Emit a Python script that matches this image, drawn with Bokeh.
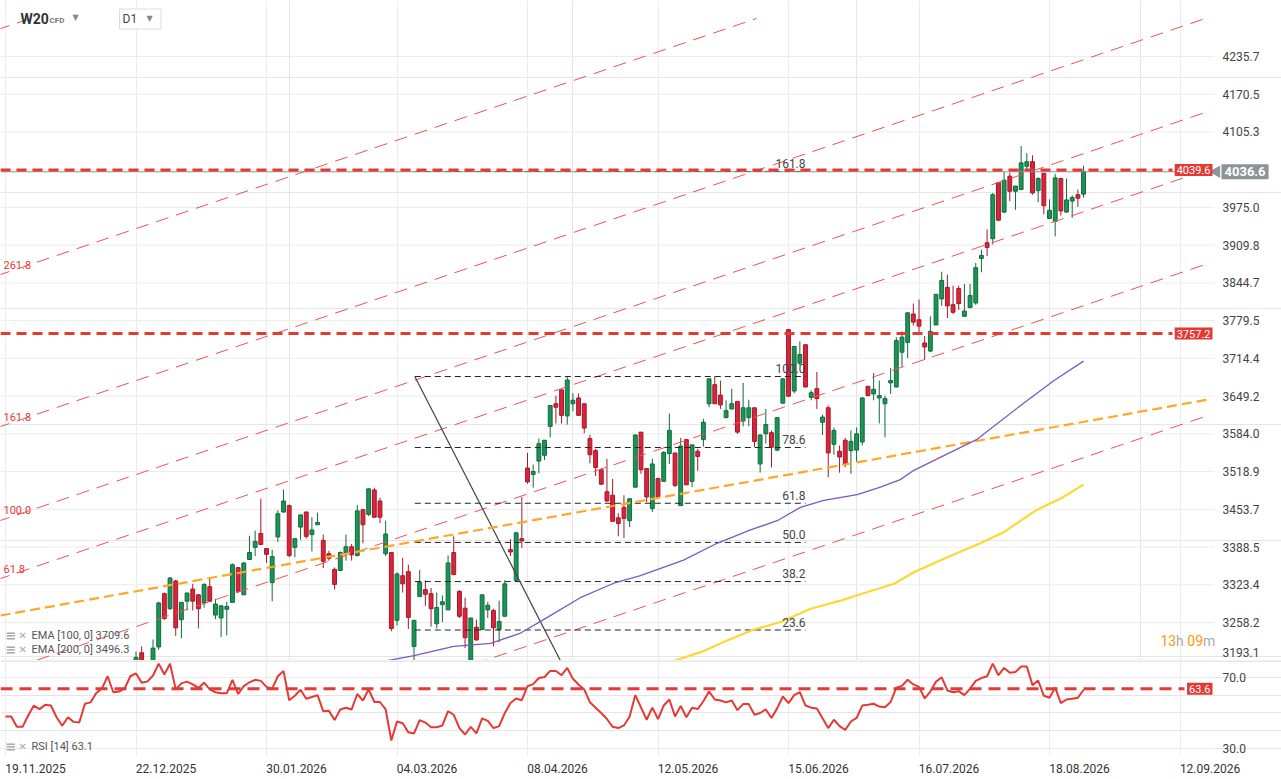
import math
from bokeh.plotting import figure
from bokeh.models import Range1d, FixedTicker, Grid, Label, ColumnDataSource
from bokeh.layouts import column
from bokeh.embed import file_html
from bokeh.resources import INLINE

# ---------------- data ----------------
candle_start = 23
opens = [3185,3206,3188,3190,3216,3308,3282,3330,3263,3295,
         3316,3306,3292,3320,3271,3266,3281,3293,3353,3306,
         3367,3388,3412,3386,3327,3406,3449,3460,3388,3423,
         3449,3410,3427,3400,3377,3350,3348,3378,3389,3374,
         3453,3445,3487,3468,3377,3379,3262,3339,3346,3217,
         3303,3315,3308,3256,3289,3280,3379,3312,3283,3180,
         3250,3246,3280,3279,3246,3269,3384,3331,3403,3525,
         3514,3537,3547,3597,3636,3660,3615,3636,3646,3636,
         3576,3555,3522,3484,3478,3439,3457,3434,3492,3587,
         3524,3455,3507,3502,3550,3551,3460,3574,3502,3554,
         3574,3636,3669,3651,3612,3627,3640,3606,3612,3629,
         3532,3584,3586,3556,3637,3764,3658,3706,3738,3647,
         3662,3604,3629,3566,3554,3573,3555,3556,3570,3666,
         3653,3646,3636,3672,3665,3725,3742,3791,3781,3741,
         3727,3772,3817,3837,3807,3835,3787,3802,3810,3887,
         3914,3921,4018,3967,4029,4003,4006,4046,4054,4004,
         4034,3956,3951,4025,3967,3986,3997,3998]
highs = [3208,3217,3191,3229,3294,3310,3337,3332,3293,3310,
         3325,3307,3326,3334,3299,3287,3294,3360,3353,3362,
         3408,3417,3472,3386,3384,3452,3488,3462,3403,3444,
         3450,3440,3448,3410,3382,3353,3381,3410,3394,3461,
         3454,3490,3491,3474,3434,3379,3345,3370,3358,3262,
         3349,3331,3318,3310,3305,3374,3407,3314,3301,3266,
         3263,3306,3294,3282,3296,3331,3402,3415,3475,3551,
         3531,3576,3573,3633,3650,3660,3683,3654,3654,3636,
         3582,3558,3525,3541,3506,3447,3478,3472,3583,3587,
         3524,3541,3508,3554,3619,3551,3577,3574,3565,3558,
         3610,3680,3683,3676,3642,3662,3640,3672,3643,3629,
         3583,3627,3590,3613,3680,3765,3735,3744,3738,3659,
         3691,3617,3633,3595,3564,3577,3590,3595,3647,3667,
         3689,3676,3650,3698,3751,3761,3794,3809,3816,3753,
         3787,3825,3864,3859,3840,3840,3843,3843,3879,3902,
         3937,4000,4018,4036,4035,4012,4081,4069,4065,4027,
         4034,3989,4033,4026,4025,3996,4006,4047]
lows = [3175,3170,3160,3182,3211,3263,3280,3235,3231,3279,
        3279,3248,3284,3294,3264,3233,3236,3293,3309,3306,
        3366,3373,3393,3361,3295,3397,3448,3371,3371,3401,
        3403,3381,3427,3352,3365,3315,3348,3365,3365,3372,
        3395,3442,3440,3430,3373,3243,3253,3310,3247,3185,
        3302,3287,3251,3248,3259,3280,3340,3266,3214,3170,
        3227,3245,3266,3217,3224,3269,3373,3328,3387,3498,
        3491,3516,3539,3578,3602,3602,3600,3623,3615,3585,
        3533,3511,3496,3467,3433,3407,3404,3423,3491,3515,
        3466,3449,3474,3502,3532,3492,3460,3496,3492,3520,
        3562,3630,3636,3627,3611,3626,3584,3597,3597,3561,
        3517,3567,3526,3554,3636,3648,3654,3702,3664,3642,
        3627,3582,3509,3548,3517,3526,3515,3536,3564,3650,
        3642,3602,3578,3653,3664,3700,3715,3771,3760,3712,
        3725,3772,3805,3784,3791,3798,3787,3802,3807,3863,
        3891,3911,3951,3965,3986,3971,4005,4039,3997,3984,
        3963,3956,3925,3961,3966,3957,3976,3992]
closes = [3198,3180,3170,3214,3292,3265,3335,3249,3293,3309,
          3295,3282,3324,3295,3290,3287,3286,3358,3312,3361,
          3379,3398,3393,3376,3372,3446,3468,3374,3403,3444,
          3407,3418,3431,3364,3369,3324,3379,3389,3375,3451,
          3427,3489,3440,3440,3411,3248,3342,3325,3267,3262,
          3328,3307,3282,3284,3294,3361,3341,3269,3232,3266,
          3228,3306,3288,3249,3260,3325,3380,3413,3399,3501,
          3519,3567,3573,3633,3630,3616,3677,3642,3616,3594,
          3548,3526,3497,3468,3433,3429,3438,3472,3582,3522,
          3475,3532,3475,3552,3590,3495,3563,3496,3565,3545,
          3604,3679,3636,3634,3624,3636,3587,3629,3629,3571,
          3582,3600,3561,3612,3679,3649,3735,3721,3665,3655,
          3645,3613,3551,3590,3544,3532,3571,3584,3646,3650,
          3661,3650,3645,3676,3745,3751,3793,3777,3770,3734,
          3761,3825,3849,3805,3794,3809,3796,3823,3871,3892,
          3906,3997,3953,4022,4003,4012,4052,4054,4000,4025,
          3978,3970,4026,3969,3988,3992,3991,4036.6]

rsi = [48.0,48.0,42.2,42.2,48.6,54.2,52.2,54.6,54.2,47.6,
       42.8,47.6,45.0,44.6,55.2,56.0,61.3,63.7,70.7,61.7,
       62.1,63.7,70.7,72.3,67.1,67.7,71.1,77.8,71.7,77.8,
       63.3,66.7,67.7,66.1,64.1,67.1,63.3,61.7,61.1,61.1,
       68.7,60.7,65.1,67.3,68.7,68.1,64.7,63.7,70.7,73.7,
       57.2,59.7,63.1,58.0,59.0,60.1,51.0,51.2,46.0,52.0,
       53.0,52.0,60.7,57.0,63.3,56.2,56.2,52.0,34.5,45.2,
       44.2,39.1,38.5,46.0,44.6,42.0,42.0,43.0,51.0,49.0,
       41.5,37.9,42.2,38.5,47.0,45.6,41.5,42.6,50.0,55.6,
       58.2,57.2,65.1,66.3,69.7,70.3,73.7,73.7,71.3,75.4,
       69.3,66.1,63.3,56.0,53.0,50.0,46.6,42.2,41.5,43.0,
       48.0,60.1,53.2,46.2,53.0,46.6,54.2,57.6,48.0,54.0,
       47.6,53.0,52.2,56.6,62.1,57.6,57.0,56.0,57.0,51.6,
       55.0,55.0,49.0,50.0,52.0,47.2,52.6,59.3,55.6,60.1,
       61.7,54.2,53.0,52.6,47.0,41.5,46.2,42.6,40.5,45.2,
       47.2,54.2,54.6,55.2,53.6,53.2,56.2,64.3,65.3,68.7,
       66.1,64.7,58.2,62.1,67.7,70.1,62.7,61.7,62.3,60.1,
       63.7,68.1,69.7,70.7,77.8,71.3,75.4,72.7,73.1,76.2,
       76.2,65.7,68.3,59.7,58.6,64.3,55.6,57.6,58.0,58.6,
       63.1]

ema100_x = [65, 72, 79, 85.5, 90.8, 95.5, 101.3, 107.2, 111.9, 119.5, 125.4, 131.3,
            136, 140.1, 144.2, 150.1, 154.2, 157.7, 160.1, 165.1, 171.3, 178.9, 184.8, 190]
ema100_y = [3188, 3201, 3217, 3222, 3240, 3267, 3301, 3326, 3339, 3366, 3395, 3418,
            3434, 3457, 3469, 3479, 3492, 3505, 3521, 3545, 3575, 3633, 3676, 3709.6]
ema200_x = [117, 122.5, 127.2, 131.9, 136.6, 141.9, 147.2, 150.7, 156.6, 160.1,
            166, 171.8, 175.9, 181.8, 185.9, 190]
ema200_y = [3189, 3207, 3227, 3246, 3259, 3282, 3296, 3307, 3325, 3345,
            3371, 3395, 3414, 3453, 3472, 3496.3]

trend_x = [-0.88, 212.0]
trend_y = [3270.3, 3643.3]

chan_x = [-0.881, 207.1]
chan_base = [3171.9, 3862.1]
chan_width = 262.5
chan_levels = [-1.0, 0.0, 0.618, 1.0, 1.618, 2.618, 4.236]
chan_labels = {0.618: "61.8", 1.0: "100.0", 1.618: "161.8", 2.618: "261.8"}

fib_x = [72.14, 141.0]
fib_low = 3110.0
fib_high = 3683.0
fib_levels = [0.0, 0.236, 0.382, 0.5, 0.618, 0.786, 1.0, 1.618]
fib_diag_x = [72.14, 102.1]
fib_diag_y = [3683.0, 3110.0]

level_lines = [4039.6, 3757.2]
last_price = 4036.6
rsi_level = 63.6

price_ticks = [3193.1, 3258.2, 3323.4, 3388.5, 3453.7, 3518.9, 3584.0, 3649.2, 3714.4,
               3779.5, 3844.7, 3909.8, 3975.0, 4040.1, 4105.3, 4170.5, 4235.7]
rsi_ticks = [30.0, 70.0]
date_idx = [0, 23, 46, 69, 92, 115, 138, 161, 184, 207]
date_labels = ["19.11.2025", "22.12.2025", "30.01.2026", "04.03.2026", "08.04.2026",
               "12.05.2026", "15.06.2026", "16.07.2026", "18.08.2026", "12.09.2026"]

# ---------------- layout helpers (reference pixel -> data) ----------------
X0 = -0.881
PX = 5.674
W_PX = 1281
MAIN_H = 660
RSI_H = 95


def X(px):
    return X0 + px / PX


def Y(py):
    return 4332.4 - 1.727 * py


def R(py):
    return 70 - (py - 677) * 0.5634


XE = X(1214)          # right edge of the plotting area (price scale starts here)
FONT = "Roboto"
GREEN, GREEN_D = "#1b9455", "#0f6b3d"
RED, RED_D = "#dc2339", "#a3192b"
LRED = "#e53935"
GRID = "#ececec"


def lab(fig, x, y, text, size="11px", color="#444444", align="left", baseline="middle",
        style="normal", bg=None, pad=None, border=None, font=FONT):
    kw = dict(x=x, y=y, text=text, text_font=font, text_font_size=size, text_color=color,
              text_align=align, text_baseline=baseline, text_font_style=style)
    if bg is not None:
        kw["background_fill_color"] = bg
    if border is not None:
        kw["border_line_color"] = border
    if pad is not None:
        kw["padding"] = pad
    fig.add_layout(Label(**kw))


def base_fig(height, yr, axis_below):
    f = figure(frame_width=W_PX, frame_height=height, x_range=Range1d(X0, X(W_PX)),
               y_range=yr, x_axis_location="below" if axis_below else None,
               y_axis_location=None, output_backend="svg", toolbar_location=None,
               min_border_left=0, min_border_right=0, min_border_top=0,
               min_border_bottom=24 if axis_below else 0,
               outline_line_color=None, background_fill_color="white",
               border_fill_color="white")
    return f


# ---------------- main price figure ----------------
p = base_fig(MAIN_H, Range1d(Y(MAIN_H), Y(0)), False)
p.add_layout(Grid(dimension=0, ticker=FixedTicker(ticks=date_idx), grid_line_color=GRID))
p.segment(x0=[X0] * len(price_ticks), y0=price_ticks, x1=[XE] * len(price_ticks),
          y1=price_ticks, line_color=GRID, line_width=1)

# candles
cidx = list(range(candle_start, candle_start + len(opens)))
up = [c >= o for o, c in zip(opens, closes)]
src = ColumnDataSource(dict(
    x=cidx, o=opens, h=highs, l=lows, c=closes,
    top=[max(o, c) for o, c in zip(opens, closes)],
    bot=[min(o, c) for o, c in zip(opens, closes)],
    fill=[GREEN if u else RED for u in up],
    edge=[GREEN_D if u else RED_D for u in up]))
p.segment(x0="x", y0="l", x1="x", y1="h", source=src, line_color="edge", line_width=1)
p.vbar(x="x", top="top", bottom="bot", width=0.68, source=src, fill_color="fill",
       line_color="edge", line_width=1)

# fib channel (thin red dashed), clipped at the top of the drawing area
slope = (chan_base[1] - chan_base[0]) / (chan_x[1] - chan_x[0])
ytop = Y(18)
xa, xb = -5.0, X(1210)
for lv in chan_levels:
    off = chan_base[0] + lv * chan_width
    xe = xb
    if off + slope * (xb - chan_x[0]) > ytop:
        xe = chan_x[0] + (ytop - off) / slope
    p.line([xa, xe], [off + slope * (xa - chan_x[0]), off + slope * (xe - chan_x[0])],
           line_color="#ef5350", line_width=1, line_dash="13 8")
    if lv in chan_labels:
        yl = off + slope * (X(3) - chan_x[0])
        lab(p, X(3), yl + 5 * 1.727, chan_labels[lv], size="11px", color=LRED,
            baseline="bottom")

# fib retracement
for lv in fib_levels:
    yv = fib_low + lv * (fib_high - fib_low)
    p.line(fib_x, [yv, yv], line_color="#222222", line_width=1, line_dash="6 4")
    if lv > 0:
        lab(p, fib_x[1], yv + 3.5 * 1.727, f"{lv * 100:.1f}", size="12px",
            color="#444444", align="right", baseline="bottom")
p.line(fib_diag_x, fib_diag_y, line_color="#444444", line_width=1.2)

# trend line & EMAs
p.line(trend_x, trend_y, line_color="#ffa726", line_width=2.2, line_dash="10 5")
p.line(ema100_x, ema100_y, line_color="#7e57c2", line_width=1.3)
p.line(ema200_x, ema200_y, line_color="#fdd835", line_width=2.2)

# horizontal levels
p.line([X0, XE], [last_price, last_price], line_color="#8a9499", line_width=1)
for lvl in level_lines:
    p.line([X0, X(1172)], [lvl, lvl], line_color=LRED, line_width=3, line_dash="10 6")
    lab(p, X(1212), lvl, f"{lvl:.1f}", size="11px", color="white", align="right",
        bg=LRED, pad=2)

# price scale labels
for t in price_ticks:
    if t < 3200:
        lab(p, X(1222), Y(652), f"{t:.1f}", size="12px", color="#444444")
    else:
        lab(p, X(1222), t, f"{t:.1f}", size="12px", color="#444444")
p.scatter([X(1216)], [last_price], marker="triangle", size=11, angle=math.pi / 2,
          fill_color="#8a9499", line_color="#8a9499")
lab(p, X(1221), last_price, f"{last_price:.1f}", size="13px", color="white",
    bg="#8a9499", pad=3, style="bold")

# legends
for py, txt in [(635, "EMA [100, 0] 3709.6"), (649, "EMA [200, 0] 3496.3")]:
    lab(p, X(5), Y(py), "\u2261", size="13px", color="#aaaaaa", style="bold", font="DejaVu Sans")
    lab(p, X(18), Y(py), "\u2715", size="10px", color="#aaaaaa", style="bold", font="DejaVu Sans")
    lab(p, X(31), Y(py), txt, size="11px", color="#555555")

# countdown
lab(p, X(1160), Y(640), "13", size="14px", color="#ff9800")
lab(p, X(1175.6), Y(640), "h", size="14px", color="#aaaaaa")
lab(p, X(1186.8), Y(640), "09", size="14px", color="#ff9800")
lab(p, X(1202.4), Y(640), "m", size="14px", color="#aaaaaa")

# header
lab(p, X(20), Y(18), "W20", size="14px", color="#2d3436", style="bold")
lab(p, X(49), Y(19.5), "CFD", size="8px", color="#777777", style="bold")
lab(p, X(72), Y(17), "\u25bc", size="8px", color="#888888", font="DejaVu Sans")
lab(p, X(119), Y(18.5), "D1" + "\u00a0" * 7, size="12px", color="#444444",
    bg="white", border="#dddddd", pad=3)
lab(p, X(146), Y(18), "\u25bc", size="8px", color="#888888", font="DejaVu Sans")

# ---------------- RSI figure ----------------
p2 = base_fig(RSI_H, Range1d(R(MAIN_H + RSI_H), R(MAIN_H)), True)
p2.x_range = p.x_range
shift = 30 / PX
p2.xaxis.ticker = FixedTicker(ticks=[d + shift for d in date_idx])
p2.xaxis.major_label_overrides = {d + shift: s for d, s in zip(date_idx, date_labels)}
p2.xaxis.major_tick_line_color = None
p2.xaxis.minor_tick_line_color = None
p2.xaxis.axis_line_color = None
p2.xaxis.major_label_standoff = 2
p2.xaxis.major_label_text_font = FONT
p2.xaxis.major_label_text_font_size = "12px"
p2.xaxis.major_label_text_color = "#333333"
p2.xgrid.ticker = FixedTicker(ticks=date_idx)
p2.xgrid.grid_line_color = GRID
p2.segment(x0=[X0] * 2, y0=rsi_ticks, x1=[XE] * 2, y1=rsi_ticks, line_color=GRID)
p2.line([X0, X(W_PX)], [R(660.5), R(660.5)], line_color="#cfcfcf", line_width=1)

p2.line(list(range(len(rsi))), rsi, line_color=LRED, line_width=2)
p2.line([X0, X(1184)], [rsi_level, rsi_level], line_color=LRED, line_width=3, line_dash="12 7")
lab(p2, X(1212), rsi_level, f"{rsi_level:.1f}", size="11px", color="white", align="right",
    bg=LRED, pad=2)
for t in rsi_ticks:
    lab(p2, X(1222), t, f"{t:.1f}", size="12px", color="#444444")
lab(p2, X(5), R(746), "\u2261", size="13px", color="#aaaaaa", style="bold", font="DejaVu Sans")
lab(p2, X(18), R(746), "\u2715", size="10px", color="#aaaaaa", style="bold", font="DejaVu Sans")
lab(p2, X(31), R(746), "RSI [14] 63.1", size="11px", color="#555555")

layout = column(p, p2)
open("out.html", "w").write(file_html(layout, INLINE))
